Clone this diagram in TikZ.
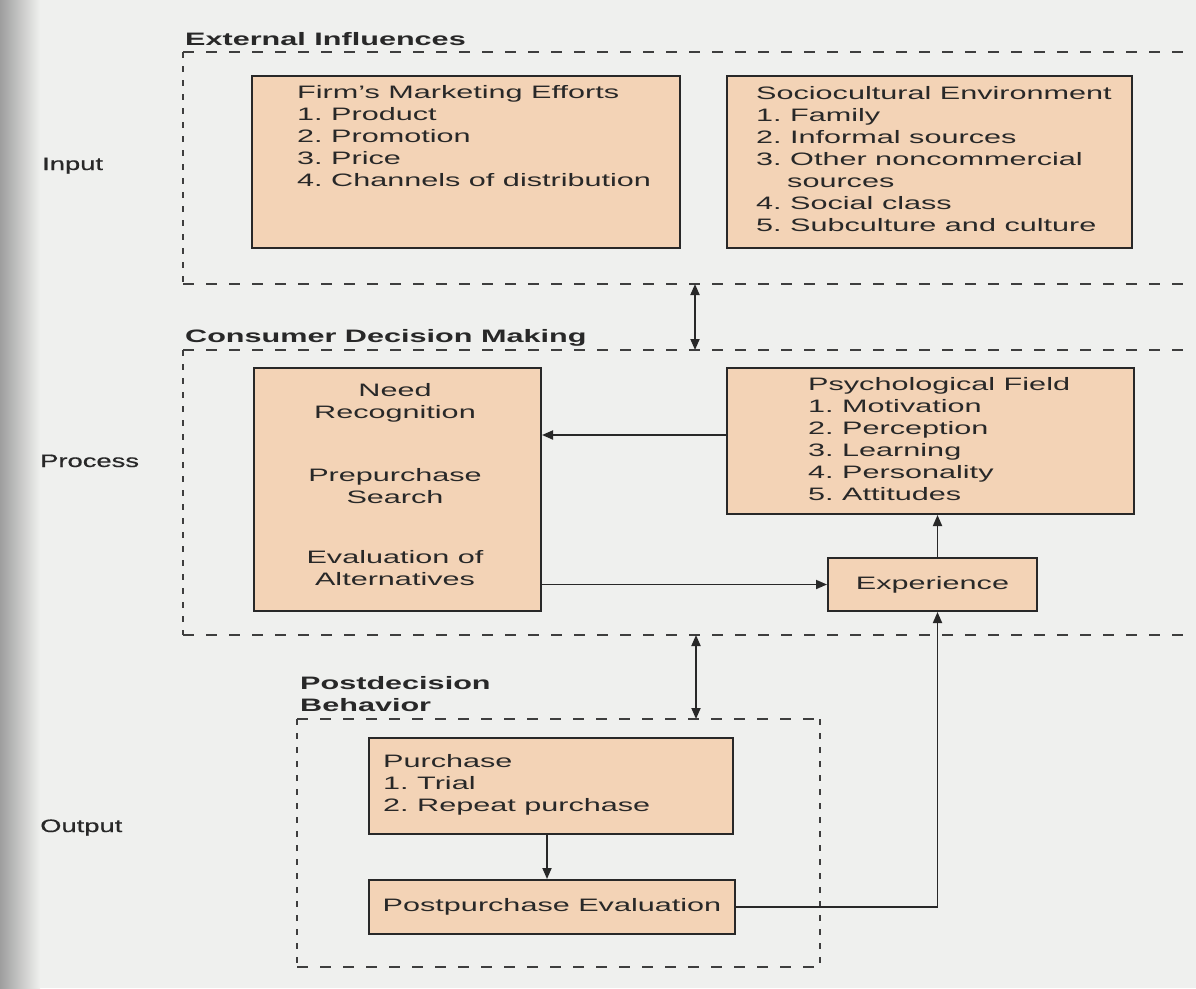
\documentclass[tikz,border=0pt]{standalone}
\usepackage{fontspec}
\setmainfont{Liberation Sans}[FakeStretch=1.7]
\newfontfamily\stagefont{Liberation Sans}[FakeStretch=1.52, FakeBold=0.6]
\usetikzlibrary{arrows.meta}
\definecolor{paper}{RGB}{239,240,238}
\definecolor{peach}{RGB}{243,211,182}
\definecolor{ink}{RGB}{40,40,40}
\definecolor{frame}{RGB}{62,62,62}
% left-aligned and centred line stacks, aligned on the first baseline
\newcommand\lstack[1]{\begin{tabular}[t]{@{}l@{}}#1\end{tabular}}
\newcommand\cstack[1]{\begin{tabular}[t]{@{}c@{}}#1\end{tabular}}
\frenchspacing
\begin{document}
\begin{tikzpicture}[x=1pt,y=-1pt,
  txt/.style={inner sep=0pt, text=ink, font=\fontsize{18}{22}\selectfont},
  stage/.style={inner sep=0pt, text=ink, font=\stagefont\fontsize{18}{22}\selectfont},
  head/.style={inner sep=0pt, text=ink, font=\fontsize{18}{22}\selectfont\bfseries},
  box/.style={draw=ink, line width=2pt, fill=peach, inner sep=0pt,
              anchor=north west, text=ink, font=\fontsize{18}{22}\selectfont},
  hdash/.style={draw=frame, line width=2pt, dash pattern=on 11pt off 12pt},
  vdash/.style={draw=frame, line width=2pt, dash pattern=on 6pt off 8pt},
  tip/.tip={Triangle[length=11pt,width=9pt]},
  arr/.style={draw=ink, line width=1.8pt, -tip},
  darr/.style={draw=ink, line width=1.8pt, tip-tip},
]
% page
\useasboundingbox (0,0) rectangle (1196,988);
\fill[paper] (0,0) rectangle (1196,988);
\shade[left color=black!38, right color=paper] (0,0) rectangle (40,988);

% ---- stage labels
\node[stage, anchor=base west] (lin)  at (42,170) {Input};
\node[stage, anchor=base west] (lpr)  at (40,467) {Process};
\node[stage, anchor=base west] (lout) at (40,832) {Output};

% ---- external influences
\node[head, anchor=base west] (ext) at (185,45) {External Influences};
\draw[hdash] (183,52) -- (1192,52);
\draw[vdash] (183,52) -- (183,284);
\draw[hdash] (183,284) -- (1192,284);

\node[box, minimum width=428pt, minimum height=172pt] (firm) at (251,75) {};
\node[txt, anchor=base west] (firmtxt) at (297,98)
  {\lstack{Firm's Marketing Efforts\\1. Product\\2. Promotion\\3. Price\\4. Channels of distribution}};

\node[box, minimum width=405pt, minimum height=172pt] (socio) at (726,75) {};
\node[txt, anchor=base west] (sociotxt) at (756,99)
  {\lstack{Sociocultural Environment\\1. Family\\2. Informal sources\\3. Other noncommercial\\\hspace*{31pt}sources\\4. Social class\\5. Subculture and culture}};

\coordinate (ua) at (695,284);
\coordinate (ub) at (695,350);
\draw[darr] (ua) -- (ub);

% ---- consumer decision making
\node[head, anchor=base west] (cdm) at (185,342) {Consumer Decision Making};
\draw[hdash] (183,350) -- (1192,350);
\draw[vdash] (183,350) -- (183,635);
\draw[hdash] (183,635) -- (1192,635);

\node[box, minimum width=287pt, minimum height=243pt] (proc) at (253,367) {};
\node[txt, anchor=base] (needtxt) at (395,396) {\cstack{Need\\Recognition}};
\node[txt, anchor=base] (srchtxt) at (395,481) {\cstack{Prepurchase\\Search}};
\node[txt, anchor=base] (evaltxt) at (395,563) {\cstack{Evaluation of\\Alternatives}};

\node[box, minimum width=407pt, minimum height=146pt] (psych) at (726,367) {};
\node[txt, anchor=base west] (psychtxt) at (808,390)
  {\lstack{Psychological Field\\1. Motivation\\2. Perception\\3. Learning\\4. Personality\\5. Attitudes}};

\node[box, minimum width=209pt, minimum height=53pt] (exp) at (827,557) {Experience};

\draw[arr] ([yshift=6pt]psych.west) -- ([yshift=6pt]psych.west -| proc.east);
\draw[arr] (exp.west -| proc.east) -- (exp.west);
\draw[arr] ([xshift=5pt]exp.north) -- ([xshift=5pt]exp.north |- psych.south);

\coordinate (la) at (696,635);
\coordinate (lb) at (696,719);
\draw[darr] (la) -- (lb);

% ---- postdecision behaviour
\node[head, anchor=base west] (pdb) at (300,689) {\lstack{Postdecision\\Behavior}};
\draw[hdash] (297,719) -- (820,719);
\draw[vdash] (297,719) -- (297,967);
\draw[vdash] (820,719) -- (820,967);
\draw[hdash] (297,967) -- (820,967);

\node[box, minimum width=364pt, minimum height=96pt] (purch) at (368,737) {};
\node[txt, anchor=base west] (purchtxt) at (383,767)
  {\lstack{Purchase\\1. Trial\\2. Repeat purchase}};

\node[box, minimum width=366pt, minimum height=54pt] (post) at (368,879) {Postpurchase Evaluation};

\draw[arr] ([xshift=-4pt]purch.south) -- ([xshift=-4pt]purch.south |- post.north);
\draw[arr] (post.east) -| ([xshift=5pt]exp.south);
\end{tikzpicture}
\end{document}
